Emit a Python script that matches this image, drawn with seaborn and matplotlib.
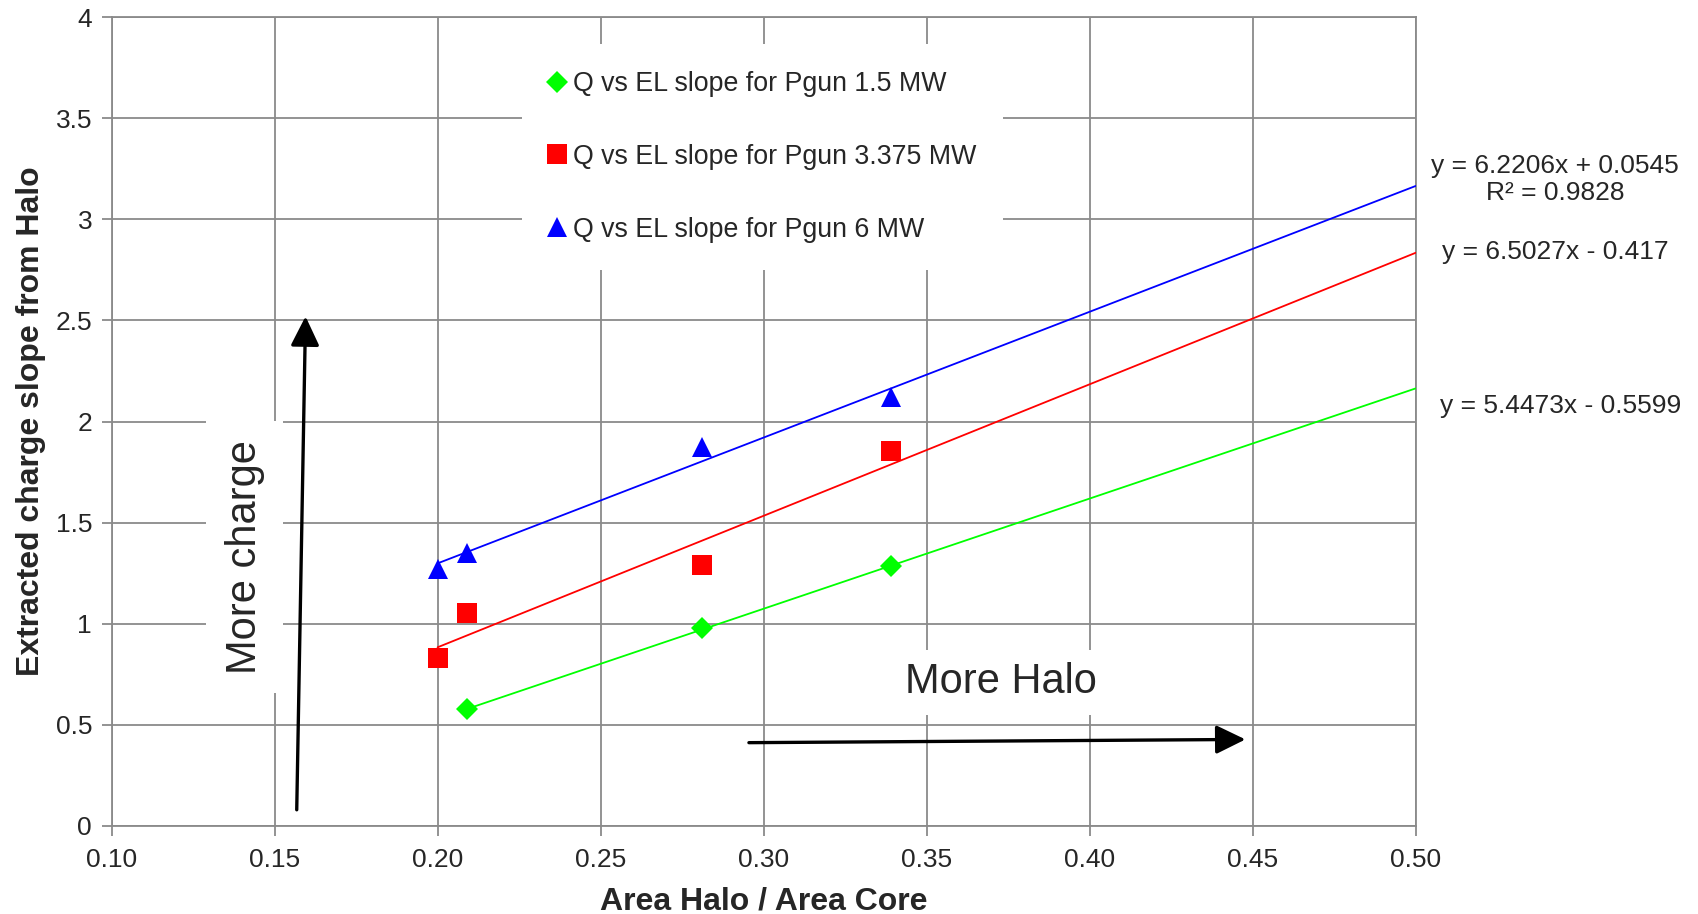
import matplotlib
matplotlib.use("Agg")
import matplotlib.pyplot as plt
from matplotlib import font_manager
import seaborn as sns
import numpy as np
import pandas as pd

# ---------------- data ----------------
series_names = ["Q vs EL slope for Pgun 1.5 MW",
                "Q vs EL slope for Pgun 3.375 MW",
                "Q vs EL slope for Pgun 6 MW"]
x_15 = [0.209, 0.281, 0.339]
y_15 = [0.578, 0.978, 1.285]
x_3375 = [0.200, 0.209, 0.281, 0.339]
y_3375 = [0.830, 1.052, 1.290, 1.855]
x_6 = [0.200, 0.209, 0.281, 0.339]
y_6 = [1.270, 1.350, 1.875, 2.120]

# trend-line coefficients (from the chart's equations)
slopes = [5.4473, 6.5027, 6.2206]
intercepts = [-0.5599, -0.417, 0.0545]
trend_x_start = [0.209, 0.200, 0.200]
trend_x_end = [0.50, 0.50, 0.50]
equation_labels = ["y = 5.4473x - 0.5599",
                   "y = 6.5027x - 0.417",
                   "y = 6.2206x + 0.0545\nR² = 0.9828"]

x_ticks = [0.10, 0.15, 0.20, 0.25, 0.30, 0.35, 0.40, 0.45, 0.50]
y_ticks = [0, 0.5, 1, 1.5, 2, 2.5, 3, 3.5, 4]
y_tick_labels = ["0", "0.5", "1", "1.5", "2", "2.5", "3", "3.5", "4"]

x_label = "Area Halo / Area Core"
y_label = "Extracted charge slope from Halo"

# annotation arrows (tail -> head) and texts
arrow_charge = [(0.1568, 0.08), (0.1595, 2.52)]
arrow_halo = [(0.2955, 0.412), (0.4478, 0.428)]
text_charge = ("More charge", 0.1408, 1.33)
text_halo = ("More Halo", 0.3729, 0.71)

# ---------------- style ----------------
sns.set_theme(style="white")
plt.rcParams["font.family"] = ["Liberation Sans", "DejaVu Sans"]

def has_font(name):
    try:
        font_manager.findfont(font_manager.FontProperties(family=name), fallback_to_default=False)
        return True
    except Exception:
        return False

narrow = has_font("Liberation Sans Narrow")
label_family = ["Liberation Sans Narrow"] if narrow else ["Liberation Sans"]
label_size = 27 if narrow else 23

colors = ["#00FF00", "#FF0000", "#0000FF"]
markers = ["D", "s", "^"]
msizes = [11.5, 14, 14]
grid_col = "#8a8a8a"

fig = plt.figure(figsize=(16.98, 9.14), dpi=100)
ax = fig.add_axes([0.0657, 0.0963, 0.768, 0.885])

# trend lines
for i in range(3):
    tx = np.array([trend_x_start[i], trend_x_end[i]])
    ty = slopes[i] * tx + intercepts[i]
    sns.lineplot(x=tx, y=ty, ax=ax, color=colors[i], linewidth=1.3, zorder=3, legend=False)

# scatter points
xs = [x_15, x_3375, x_6]
ys = [y_15, y_3375, y_6]
handles = []
for i in range(3):
    l, = ax.plot(xs[i], ys[i], linestyle="none", marker=markers[i], markersize=msizes[i],
                 color=colors[i], markeredgewidth=0, zorder=4, label=series_names[i])
    handles.append(l)

ax.set_xlim(0.10, 0.50)
ax.set_ylim(0, 4)
ax.set_xticks(x_ticks)
ax.set_xticklabels([f"{v:.2f}" for v in x_ticks])
ax.set_yticks(y_ticks)
ax.set_yticklabels(y_tick_labels)
ax.tick_params(axis="both", labelsize=19, length=7, width=1.3, color=grid_col, pad=7,
               direction="out", bottom=True, left=True)
ax.tick_params(axis="x", pad=8.5)
ax.grid(True, color=grid_col, linewidth=1.3, zorder=0)
ax.set_axisbelow(True)
for s in ax.spines.values():
    s.set_color(grid_col)
    s.set_linewidth(1.3)

ax.set_xlabel(x_label, fontsize=label_size, fontweight="bold", family=label_family, labelpad=11)
ax.set_ylabel(y_label, fontsize=label_size, fontweight="bold", family=label_family, labelpad=7)

# legend
leg = ax.legend(handles=handles, loc="upper left", bbox_to_anchor=(0.3146, 0.9666),
                fontsize=19.3, frameon=True, facecolor="white", edgecolor="none",
                framealpha=1, fancybox=False, handlelength=0.6, handletextpad=0.3,
                labelspacing=1.75, borderpad=1.0, borderaxespad=0, markerscale=1.0)
leg.set_zorder(5)

# equations (outside the plot, right side)
eq_pos = [(0.5446, 2.075), (0.5430, 2.84), (0.5428, 3.195)]
for i in range(3):
    ax.text(eq_pos[i][0], eq_pos[i][1], equation_labels[i], fontsize=19, ha="center",
            va="center", clip_on=False, linespacing=1.15)

# annotation arrows
for tail, head in (arrow_charge, arrow_halo):
    ax.annotate("", xy=head, xytext=tail,
                arrowprops=dict(arrowstyle="-|>,head_length=0.45,head_width=0.22",
                                color="black", lw=2.4, mutation_scale=40,
                                shrinkA=0, shrinkB=0), zorder=6)

ax.text(text_charge[1], text_charge[2], text_charge[0], fontsize=30, rotation=90,
        ha="center", va="center", zorder=5,
        bbox=dict(boxstyle="square,pad=0.45", facecolor="white", edgecolor="none"))
ax.text(text_halo[1], text_halo[2], text_halo[0], fontsize=30,
        ha="center", va="center", zorder=5,
        bbox=dict(boxstyle="square,pad=0.3", facecolor="white", edgecolor="none"))

fig.savefig("out.png", dpi=100)
